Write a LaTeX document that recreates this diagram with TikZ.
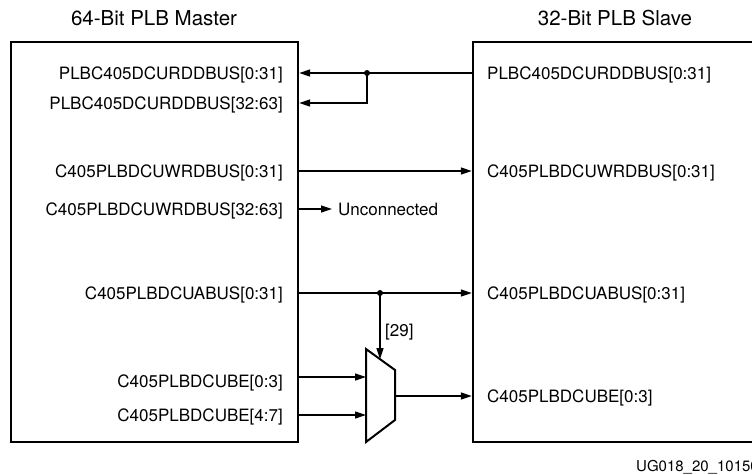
\documentclass[tikz,border=0pt]{standalone}
\usepackage{fontspec}
\setmainfont{TeX Gyre Heros}
\usetikzlibrary{arrows.meta}
\begin{document}
\begin{tikzpicture}[x=1pt,y=-1pt,
  box/.style={draw, line width=2.4pt, inner sep=0pt, minimum height=400pt},
  lbl/.style={font=\fontsize{17}{20}\selectfont, inner sep=0pt},
  ttl/.style={font=\fontsize{20.5}{24}\selectfont, inner sep=0pt},
  wire/.style={line width=1.2pt},
  arr/.style={wire, -{Triangle[length=11pt,width=7pt]}},
  jdot/.style={circle, fill, inner sep=0pt, minimum size=6pt},
  muxshape/.style={line width=2pt, line join=miter},
]
\useasboundingbox (0,0) rectangle (752,474);
% boxes
\node[box, minimum width=287pt] (master) at (154.5,242) {};
\node[box, minimum width=300pt] (slave) at (623,242) {};
% titles
\node[ttl, anchor=base] (tm) at (154,25) {64-Bit PLB Master};
\node[ttl, anchor=base] (ts) at (615,25) {32-Bit PLB Slave};
% master labels
\node[lbl, anchor=base east] (m1) at (283,79) {PLBC405DCURDDBUS[0:31]};
\node[lbl, anchor=base east] (m2) at (283,109) {PLBC405DCURDDBUS[32:63]};
\node[lbl, anchor=base east] (m3) at (283,177) {C405PLBDCUWRDBUS[0:31]};
\node[lbl, anchor=base east] (m4) at (283,215) {C405PLBDCUWRDBUS[32:63]};
\node[lbl, anchor=base east] (m5) at (283,299) {C405PLBDCUABUS[0:31]};
\node[lbl, anchor=base east] (m6) at (283,387) {C405PLBDCUBE[0:3]};
\node[lbl, anchor=base east] (m7) at (283,421) {C405PLBDCUBE[4:7]};
% slave labels
\node[lbl, anchor=base west] (s1) at (487,79) {PLBC405DCURDDBUS[0:31]};
\node[lbl, anchor=base west] (s3) at (487,177) {C405PLBDCUWRDBUS[0:31]};
\node[lbl, anchor=base west] (s5) at (487,299) {C405PLBDCUABUS[0:31]};
\node[lbl, anchor=base west] (s6) at (487,402) {C405PLBDCUBE[0:3]};
% other texts
\node[lbl, anchor=base west] (un) at (338,215) {Unconnected};
\node[lbl, anchor=base west] (b29) at (385,336) {[29]};
\node[font=\fontsize{15}{17}\selectfont, inner sep=0pt, anchor=base west] (ug) at (636,471) {UG018\_20\_10150};
% coordinates
\coordinate (j1) at (367,73);
\coordinate (r2) at (0,103);
\coordinate (r3) at (0,171);
\coordinate (r4) at (0,209);
\coordinate (j2) at (380,293);
\coordinate (mA) at (366,349);
\coordinate (mB) at (395,370);
\coordinate (mC) at (395,420);
\coordinate (mD) at (366,442);
\coordinate (msel) at (380,359.1);
\coordinate (i1) at (366,377);
\coordinate (i2) at (366,415);
\coordinate (mo) at (395,396);
% mux
\draw[muxshape] (mA) -- (mB) -- (mC) -- (mD) -- cycle;
% connectors
\draw[arr] (slave.west |- j1) -- (master.east |- j1);
\draw[arr] (j1) |- (master.east |- r2);
\node[jdot] (d1) at (j1) {};
\draw[arr] (master.east |- r3) -- (slave.west |- r3);
\draw[arr] (master.east |- r4) -- ([xshift=-6pt]un.west |- r4);
\draw[arr] (master.east |- j2) -- (slave.west |- j2);
\node[jdot] (d2) at (j2) {};
\draw[arr] (j2) -- (msel);
\draw[arr] (master.east |- i1) -- (i1);
\draw[arr] (master.east |- i2) -- (i2);
\draw[arr] (mo) -- (slave.west |- mo);
\end{tikzpicture}
\end{document}
